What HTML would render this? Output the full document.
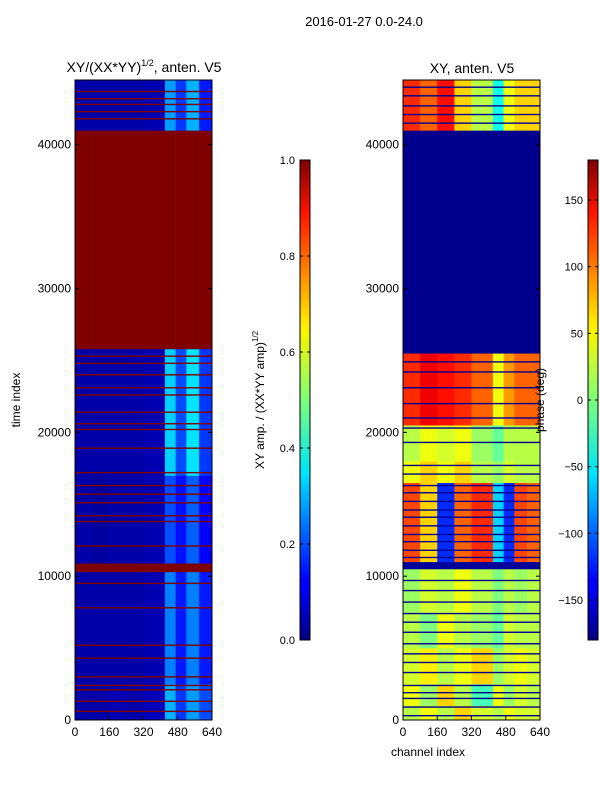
<!DOCTYPE html>
<html><head><meta charset="utf-8"><style>
body{margin:0;background:#fff;}
svg text{font-family:"Liberation Sans",sans-serif;fill:#000;}
</style></head><body>
<svg id="s" width="600" height="800" viewBox="0 0 600 800" xmlns="http://www.w3.org/2000/svg">
<defs>
<linearGradient id="jet" x1="0" y1="1" x2="0" y2="0">
<stop offset="0" stop-color="#00007f"/><stop offset="0.11" stop-color="#0000ff"/><stop offset="0.125" stop-color="#0000ff"/>
<stop offset="0.34" stop-color="#00dcff"/><stop offset="0.35" stop-color="#00e4f8"/><stop offset="0.5" stop-color="#7dff7a"/>
<stop offset="0.64" stop-color="#f8f500"/><stop offset="0.66" stop-color="#ffea00"/><stop offset="0.89" stop-color="#ff1300"/>
<stop offset="1" stop-color="#7f0000"/></linearGradient>
</defs>
<text x="364" y="26" font-size="13" text-anchor="middle">2016-01-27 0.0-24.0</text>
<g id="left"></g>
<g id="right"></g>
<text x="144" y="72" font-size="14" text-anchor="middle">XY/(XX*YY)<tspan font-size="9" dy="-6">1/2</tspan><tspan dy="6">, anten. V5</tspan></text>
<text x="472" y="73" font-size="14" text-anchor="middle">XY, anten. V5</text>
<text transform="translate(20,400) rotate(-90)" font-size="12" text-anchor="middle">time index</text>
<text x="428" y="756" font-size="12" text-anchor="middle">channel index</text>
<rect x="300" y="160" width="10" height="480" fill="url(#jet)" stroke="#000" stroke-width="1"/>
<rect x="588" y="160" width="10" height="480" fill="url(#jet)" stroke="#000" stroke-width="1"/>
<text transform="translate(264,400) rotate(-90)" font-size="12" text-anchor="middle">XY amp. / (XX*YY amp)<tspan font-size="8" dy="-6">1/2</tspan></text>
<text transform="translate(544,400) rotate(-90)" font-size="12" text-anchor="middle">phase (deg)</text>
<g id="cb"></g>
</svg>
<script>
const NS="http://www.w3.org/2000/svg";
const TMAX=44500, CHMAX=640;
const segEdges=[0,80,160,240,320,420,470,520,580,640];
const ampBands=[[0,2500],[2500,10300],[10300,10900],[10900,17000],[17000,25800],[25800,41000],[41000,44500]];
const ampVals=[[.04,.04,.05,.04,.06,.3,.18,.28,.2],[.04,.04,.04,.04,.05,.25,.15,.25,.15],[1,1,1,1,1,1,1,1,1],[.04,.03,.04,.04,.05,.2,.14,.22,.12],[.04,.04,.04,.04,.05,.33,.2,.35,.18],[1,1,1,1,1,1,1,1,1],[.04,.04,.04,.04,.05,.28,.18,.3,.15]];
const ampLines=[600,1300,2100,2400,3000,4300,5200,7800,9500,12100,13800,14200,15100,15700,16300,17200,18900,20200,20600,21400,22600,23100,24000,24800,25300,41800,42300,42800,43200,43700];
const phBands=[[0,1000],[1000,2500],[2500,5000],[5000,7500],[7500,10500],[10500,11000],[11000,16500],[16500,18000],[18000,20500],[20500,25500],[25500,41000],[41000,44500]];
const phVals=[[20,40,20,60,30,20,40,30,30],[40,10,60,20,-20,40,10,30,20],[30,50,20,40,60,10,30,40,30],[20,0,40,20,10,-10,30,20,20],[10,30,20,40,20,0,20,10,20],[-170,-170,-170,-170,-170,-170,-170,-170,-170],[110,60,-120,100,120,-60,-120,110,100],[40,60,40,60,20,10,30,20,20],[20,40,30,40,10,-10,20,20,20],[120,140,130,120,100,40,80,100,100],[-175,-175,-175,-175,-175,-175,-175,-175,-175],[120,100,130,60,20,-40,40,60,60]];
const phLines=[300,900,1500,1900,2400,3300,4000,4600,5300,6100,6800,7400,8200,9000,9700,11300,11800,12400,12900,13500,14100,14600,15200,15800,16300,17100,17700,19300,20300,21000,22000,23100,24200,24900,41500,42100,42700,43400,44000];
const ampTicks=[0,0.2,0.4,0.6,0.8,1.0];
const phTicks=[-150,-100,-50,0,50,100,150];
const yTicks=[0,10000,20000,30000,40000];
const xTicks=[0,160,320,480,640];
function jet(v){const r=Math.min(Math.max(Math.min(4*v-1.5,-4*v+4.5),0),1),g=Math.min(Math.max(Math.min(4*v-0.5,-4*v+3.5),0),1),b=Math.min(Math.max(Math.min(4*v+0.5,-4*v+2.5),0),1);return `rgb(${r*255|0},${g*255|0},${b*255|0})`;}
function yS(t){return 720-t/TMAX*640;}
function mk(tag,at,p){const e=document.createElementNS(NS,tag);for(const k in at)e.setAttribute(k,at[k]);p.appendChild(e);return e;}
function panel(id,x0,bands,vals,lines,lineVal,norm){
  const g=document.getElementById(id);const w=137;const xS=c=>x0+c/CHMAX*w;
  bands.forEach((b,i)=>{vals[i].forEach((v,j)=>{const r=mk('rect',{x:xS(segEdges[j]),y:yS(b[1]),width:xS(segEdges[j+1])-xS(segEdges[j])+0.3,height:yS(b[0])-yS(b[1])+0.3,fill:jet(norm(v))},g);
    
    });});
  lines.forEach(t=>{const r=mk('rect',{x:x0,y:yS(t)-0.7,width:w,height:1.4,fill:jet(norm(lineVal))},g);
    
    });
  mk('rect',{x:x0,y:80,width:w,height:640,fill:'none',stroke:'#000'},g);
  yTicks.forEach(t=>{mk('line',{x1:x0,x2:x0+4,y1:yS(t),y2:yS(t),stroke:'#000'},g);mk('line',{x1:x0+w,x2:x0+w-4,y1:yS(t),y2:yS(t),stroke:'#000'},g);
    const tx=mk('text',{x:x0-4,y:yS(t)+4,'font-size':12,'text-anchor':'end'},g);tx.textContent=t;
    
    });
  xTicks.forEach(c=>{mk('line',{x1:xS(c),x2:xS(c),y1:720,y2:716,stroke:'#000'},g);
    const tx=mk('text',{x:xS(c),y:736,'font-size':12,'text-anchor':'middle'},g);tx.textContent=c;
    
    });
}
panel('left',75,ampBands,ampVals,ampLines,1,v=>v);
panel('right',403,phBands,phVals,phLines,-175,v=>(v+180)/360);
const cb=document.getElementById('cb');
ampTicks.forEach(v=>{const y=640-v*480;mk('line',{x1:300,x2:303,y1:y,y2:y,stroke:'#000'},cb);mk('line',{x1:310,x2:307,y1:y,y2:y,stroke:'#000'},cb);
  const t=mk('text',{x:295,y:y+4,'font-size':11,'text-anchor':'end'},cb);t.textContent=v.toFixed(1);
  
  });
phTicks.forEach(v=>{const y=640-(v+180)/360*480;mk('line',{x1:588,x2:591,y1:y,y2:y,stroke:'#000'},cb);mk('line',{x1:598,x2:595,y1:y,y2:y,stroke:'#000'},cb);
  const t=mk('text',{x:583,y:y+4,'font-size':11,'text-anchor':'end'},cb);t.textContent=v<0?'\u2212'+(-v):v;
  
  });
</script>
</body></html>
